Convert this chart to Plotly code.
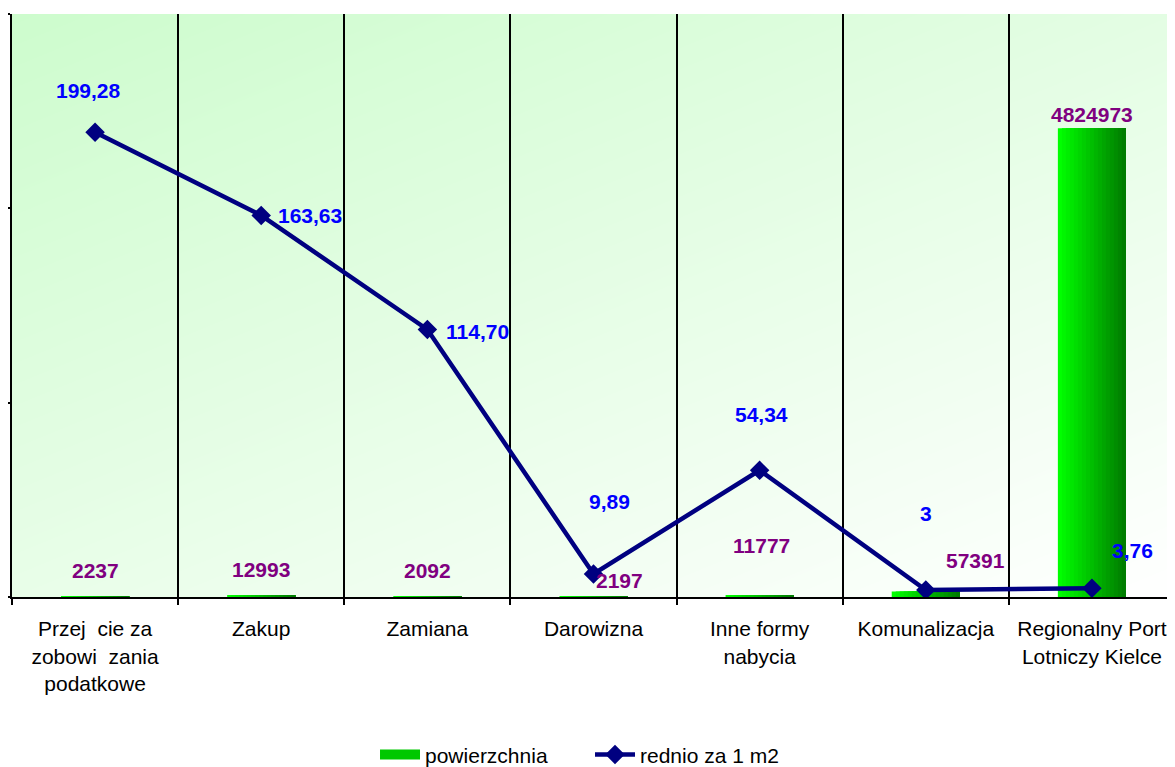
import plotly.graph_objects as go

# data
categories = ["Przej  cie za<br>zobowi  zania<br>podatkowe", "Zakup", "Zamiana", "Darowizna",
              "Inne formy<br>nabycia", "Komunalizacja", "Regionalny Port<br>Lotniczy Kielce"]
powierzchnia = [2237, 12993, 2092, 2197, 11777, 57391, 4824973]
srednio = [199.28, 163.63, 114.70, 9.89, 54.34, 3, 3.76]

# label offsets in pixels (hand placed labels in the original)
bar_label_shift = [(0, 26), (0, 26), (0, 26), (26, 16), (2, 50), (50, 31), (0, 14)]
line_label_shift = [(-7, 42), (49, 0), (50, -2), (16, 72), (2, 56), (0, 77), (41, 38)]

FONT = "Liberation Sans, Arial, sans-serif"


def fmt(v):
    if float(v).is_integer():
        return str(int(v))
    return f"{v:.2f}".replace(".", ",")


fig = go.Figure()

# gradient background on its own (hidden) subplot, drawn below everything else
fig.add_trace(go.Heatmap(z=[[0.55, 1.0], [0.0, 0.45]], x=[0, 1], y=[0, 1],
                         zsmooth="best", showscale=False, hoverinfo="skip",
                         colorscale=[[0, "#cdfccd"], [1, "#ffffff"]],
                         xaxis="x", yaxis="y"))

# bars with a stepped left->right green gradient
n_steps = 17
bar_w = 0.41
for k in range(n_steps):
    t = k / (n_steps - 1)
    g = int(255 - t * (255 - 125))
    fig.add_trace(go.Bar(x=categories, y=powierzchnia, name="powierzchnia",
                         width=bar_w * (n_steps - k) / n_steps,
                         offset=-bar_w / 2 + bar_w * k / n_steps,
                         marker=dict(color=f"rgb(0,{g},0)", line_width=0),
                         showlegend=False, legendgroup="pow",
                         xaxis="x2", yaxis="y2"))

# wide swatch for the bar series in the legend
fig.add_trace(go.Scatter(x=[None], y=[None], mode="lines", name="powierzchnia",
                         line=dict(color="rgb(0,200,0)", width=13),
                         legendgroup="pow", xaxis="x2", yaxis="y2"))

fig.add_trace(go.Scatter(x=categories, y=srednio, name="rednio za 1 m2",
                         mode="lines+markers",
                         line=dict(color="#000080", width=4.5),
                         marker=dict(symbol="diamond", size=15, color="#000080"),
                         xaxis="x2", yaxis="y3"))

for cat, v, (dx, dy) in zip(categories, powierzchnia, bar_label_shift):
    fig.add_annotation(x=cat, y=v, xref="x2", yref="y2", text=f"<b>{v}</b>",
                       showarrow=False, xshift=dx, yshift=dy,
                       font=dict(family=FONT, size=21, color="#800080"))

for cat, v, (dx, dy) in zip(categories, srednio, line_label_shift):
    fig.add_annotation(x=cat, y=v, xref="x2", yref="y3", text=f"<b>{fmt(v)}</b>",
                       showarrow=False, xshift=dx, yshift=dy,
                       font=dict(family=FONT, size=21, color="#0000ff"))

# the page body adds 8px around the figure
fig.update_layout(
    width=1167, height=759,
    margin=dict(l=1, r=0, t=6, b=170),
    paper_bgcolor="white", plot_bgcolor="rgba(0,0,0,0)",
    barmode="overlay",
    font=dict(family=FONT, size=21, color="black"),
    xaxis=dict(range=[0, 1], visible=False, fixedrange=True),
    yaxis=dict(range=[0, 1], visible=False, fixedrange=True),
    xaxis2=dict(type="category", anchor="y2",
                tickson="boundaries", showgrid=True, gridcolor="black", gridwidth=2,
                ticks="outside", ticklen=6, tickwidth=2, tickcolor="black",
                ticklabelstandoff=12,
                showline=True, linecolor="black", linewidth=2,
                tickfont=dict(family=FONT, size=21, color="black")),
    yaxis2=dict(range=[0, 6000000], dtick=2000000, anchor="x2",
                showgrid=False, zeroline=False, showticklabels=False,
                ticks="outside", ticklen=4, tickwidth=2, tickcolor="black",
                showline=True, linecolor="black", linewidth=2),
    yaxis3=dict(range=[0, 250], overlaying="y2", anchor="x2", side="right",
                visible=False),
    legend=dict(orientation="h", x=0.497, xanchor="center", yref="container",
                y=0.016, yanchor="middle", font=dict(family=FONT, size=21, color="black"),
                entrywidth=160, entrywidthmode="pixels", itemwidth=40,
                bgcolor="rgba(0,0,0,0)"),
    showlegend=True,
)

fig.write_html("out.html")
